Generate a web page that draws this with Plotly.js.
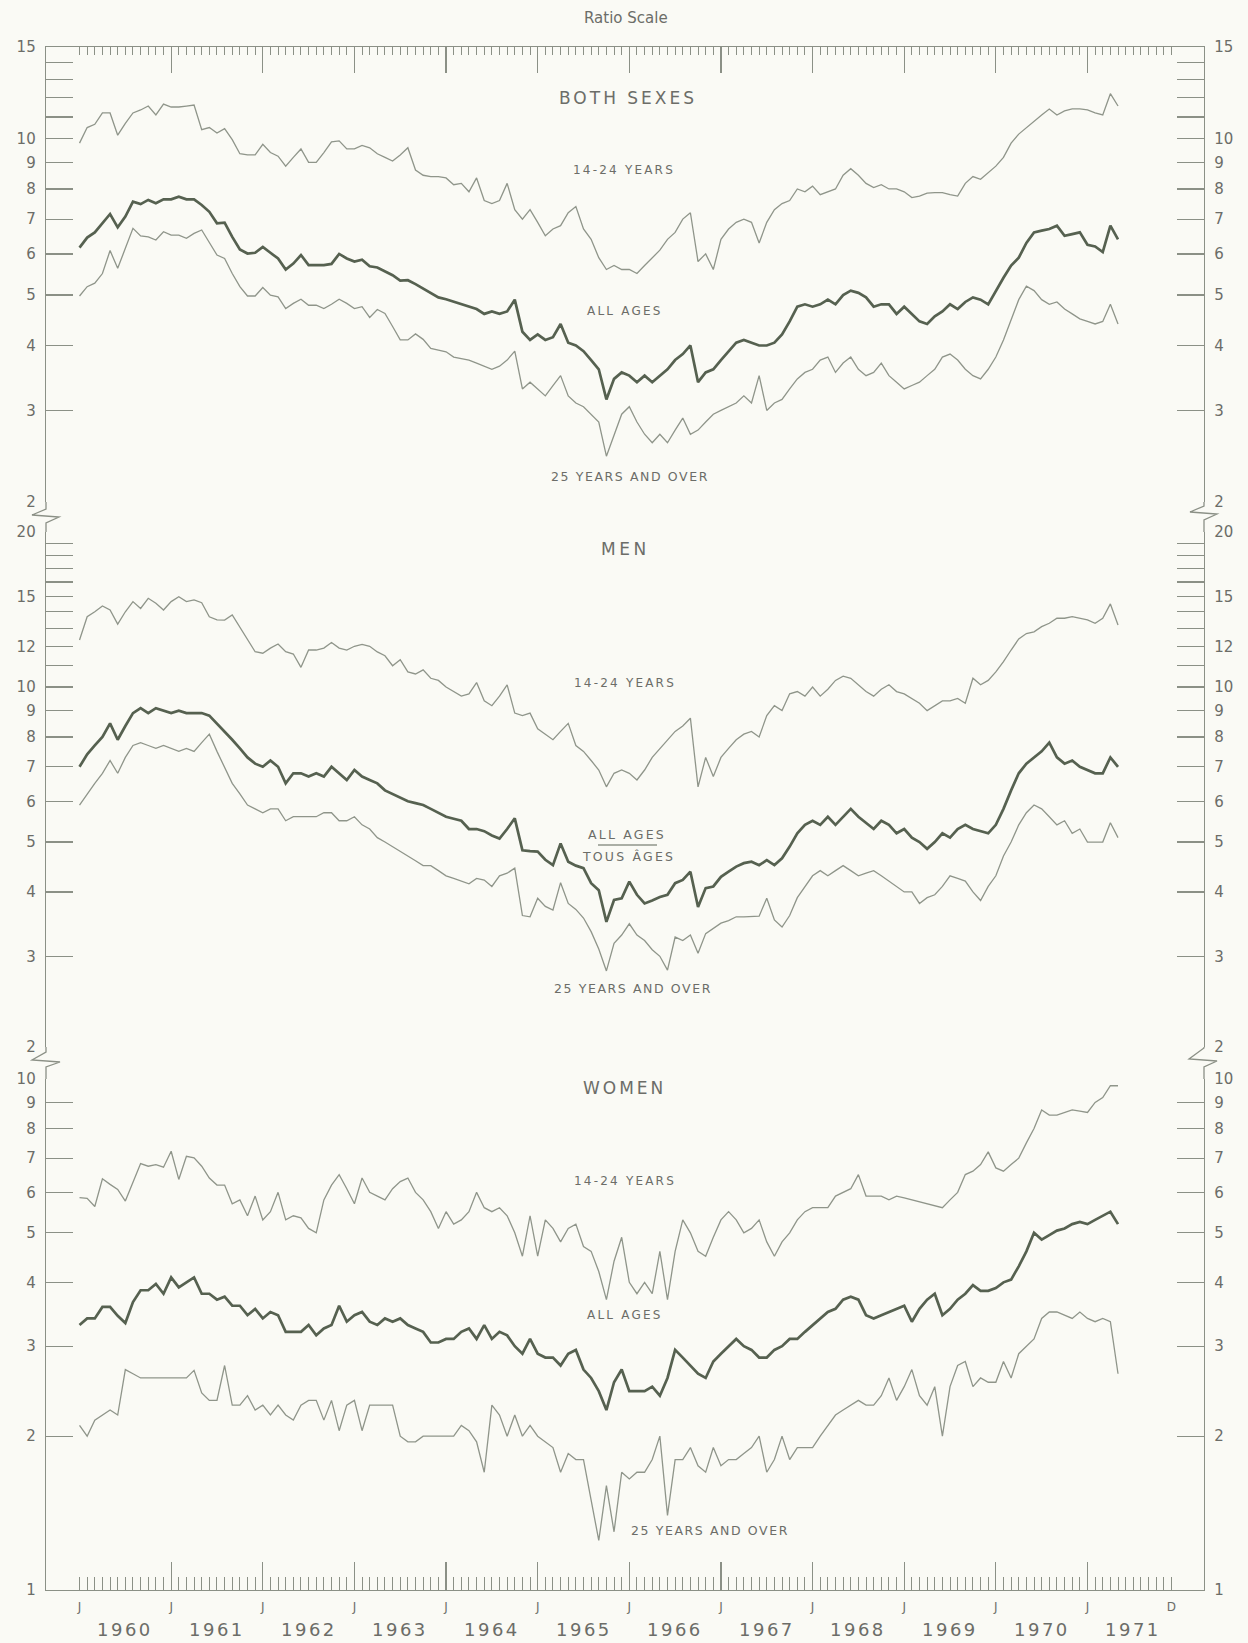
<!DOCTYPE html>
<html><head><meta charset="utf-8">
<script src="https://cdn.plot.ly/plotly-3.0.1.min.js"></script>
<style>html,body{margin:0;padding:0;background:#fafaf5;}#chart{width:1248px;height:1643px;}</style>
</head><body><div id="chart"></div>
<script>
// Monthly seasonally adjusted unemployment rates (%), Jan 1960 - May 1971
const bothYouth = [9.8,10.5,10.65,11.2,11.2,10.15,10.7,11.2,11.35,11.55,
 11.1,11.65,11.5,11.5,11.55,11.6,10.4,10.5,10.25,10.45,
 9.95,9.35,9.3,9.3,9.75,9.4,9.25,8.85,9.2,9.55,
 9.0,9.0,9.4,9.85,9.9,9.55,9.55,9.7,9.6,9.35,
 9.2,9.05,9.3,9.6,8.7,8.5,8.45,8.45,8.4,8.15,
 8.2,7.9,8.4,7.6,7.5,7.6,8.2,7.3,7.0,7.3,
 6.9,6.5,6.7,6.8,7.2,7.4,6.7,6.4,5.9,5.6,
 5.7,5.6,5.6,5.5,5.7,5.9,6.1,6.4,6.6,7.0,
 7.2,5.8,6.0,5.6,6.4,6.7,6.9,7.0,6.9,6.3,
 6.9,7.3,7.5,7.6,8.0,7.9,
 8.1,7.8,7.9,8.0,8.5,8.75,8.5,8.2,8.05,8.15,
 8.0,8.0,7.9,7.7,7.75,7.85,7.87,7.87,7.8,7.75,
 8.2,8.45,8.35,8.6,8.85,9.2,9.8,10.2,10.5,10.8,
 11.1,11.4,11.1,11.3,11.4,11.4,11.35,11.2,11.1,12.2,11.55];
const bothAll = [6.17,6.45,6.6,6.87,7.16,6.75,7.08,7.56,7.48,7.62,
 7.51,7.64,7.64,7.73,7.64,7.64,7.45,7.23,6.87,6.89,
 6.47,6.12,6.01,6.03,6.19,6.03,5.88,5.6,5.75,5.97,
 5.71,5.71,5.71,5.74,6.0,5.88,5.8,5.85,5.68,5.65,
 5.55,5.46,5.33,5.34,5.25,5.15,5.04,4.95,4.91,4.86,
 4.8,4.75,4.7,4.6,4.65,4.6,4.65,4.9,4.25,4.1,
 4.2,4.1,4.15,4.4,4.05,4.0,3.9,3.75,3.6,3.15,
 3.45,3.55,3.5,3.4,3.5,3.4,3.5,3.6,3.75,3.85,
 4.0,3.4,3.55,3.6,3.75,3.9,4.05,4.1,4.05,4.0,
 4.0,4.05,4.2,4.45,4.75,4.8,4.75,4.8,4.9,4.8,
 5.0,5.1,5.05,4.95,4.75,4.8,4.8,4.6,4.75,4.6,
 4.45,4.4,4.55,4.65,4.8,4.7,4.85,4.95,4.9,4.8,
 5.1,5.4,5.7,5.9,6.3,6.6,6.65,6.7,6.8,6.5,
 6.55,6.6,6.25,6.2,6.05,6.8,6.4];
const bothOlder = [4.98,5.19,5.27,5.5,6.09,5.63,6.15,6.72,6.5,6.47,
 6.38,6.62,6.52,6.52,6.43,6.57,6.67,6.29,5.97,5.88,
 5.5,5.19,4.98,4.98,5.17,5.0,4.96,4.71,4.82,4.91,
 4.78,4.78,4.71,4.8,4.91,4.82,4.71,4.75,4.53,4.69,
 4.61,4.35,4.1,4.1,4.21,4.11,3.95,3.92,3.89,3.8,
 3.78,3.75,3.7,3.65,3.6,3.65,3.75,3.9,3.3,3.4,
 3.3,3.2,3.35,3.5,3.2,3.1,3.05,2.95,2.85,2.45,
 2.7,2.95,3.05,2.85,2.7,2.6,2.7,2.6,2.75,2.9,
 2.7,2.75,2.85,2.95,3.0,3.05,3.1,3.2,3.1,3.5,
 3.0,3.1,3.15,3.3,3.45,3.55,3.6,3.75,3.8,3.55,
 3.7,3.8,3.6,3.5,3.55,3.7,3.5,3.4,3.3,3.35,
 3.4,3.5,3.6,3.8,3.85,3.75,3.6,3.5,3.45,3.6,
 3.8,4.1,4.5,4.9,5.2,5.1,4.9,4.8,4.85,4.7,
 4.6,4.5,4.45,4.4,4.45,4.8,4.4];
const menYouth = [12.34,13.69,14.0,14.37,14.11,13.25,14.0,14.65,14.21,14.87,
 14.54,14.11,14.65,14.97,14.65,14.76,14.58,13.69,13.5,13.49,
 13.8,13.09,12.4,11.71,11.63,11.9,12.12,11.71,11.59,10.92,
 11.8,11.8,11.9,12.2,11.9,11.8,12.0,12.1,12.0,11.7,
 11.5,11.0,11.3,10.7,10.6,10.8,10.4,10.3,10.0,9.8,
 9.6,9.7,10.2,9.4,9.2,9.6,10.1,8.9,8.8,8.9,
 8.3,8.1,7.9,8.2,8.5,7.7,7.5,7.2,6.9,6.4,
 6.8,6.9,6.8,6.6,6.9,7.3,7.6,7.9,8.2,8.4,
 8.7,6.4,7.3,6.7,7.3,7.6,7.9,8.1,8.2,8.0,
 8.8,9.2,9.0,9.7,9.8,9.6,10.0,9.6,9.9,10.3,
 10.5,10.4,10.1,9.8,9.6,9.9,10.1,9.8,9.7,9.5,
 9.3,9.0,9.2,9.4,9.4,9.5,9.3,10.4,10.1,10.3,
 10.7,11.2,11.8,12.4,12.7,12.8,13.1,13.3,13.6,13.6,
 13.7,13.6,13.5,13.3,13.6,14.5,13.2];
const menAll = [7.0,7.4,7.7,8.0,8.5,7.9,8.4,8.9,9.1,8.9,
 9.1,9.0,8.9,9.0,8.9,8.9,8.9,8.8,8.5,8.2,
 7.9,7.6,7.3,7.1,7.0,7.2,7.0,6.5,6.8,6.8,
 6.7,6.8,6.7,7.0,6.8,6.6,6.9,6.7,6.6,6.5,
 6.3,6.2,6.1,6.0,5.95,5.9,5.8,5.7,5.6,5.55,
 5.5,5.3,5.3,5.25,5.15,5.08,5.3,5.56,4.82,4.8,
 4.79,4.62,4.51,4.97,4.58,4.5,4.45,4.16,4.03,3.5,
 3.86,3.89,4.19,3.95,3.8,3.85,3.91,3.95,4.16,4.22,
 4.38,3.74,4.07,4.1,4.28,4.38,4.48,4.55,4.58,4.51,
 4.61,4.51,4.65,4.9,5.2,5.4,5.5,5.4,5.6,5.4,
 5.6,5.8,5.6,5.45,5.3,5.5,5.4,5.2,5.3,5.1,
 5.0,4.85,5.0,5.2,5.1,5.3,5.4,5.3,5.25,5.2,
 5.4,5.8,6.3,6.8,7.1,7.3,7.5,7.8,7.3,7.1,
 7.2,7.0,6.9,6.8,6.8,7.3,7.0];
const menOlder = [5.9,6.2,6.5,6.8,7.2,6.8,7.3,7.7,7.8,7.7,
 7.6,7.7,7.6,7.5,7.6,7.5,7.8,8.1,7.5,7.0,
 6.5,6.2,5.9,5.8,5.7,5.8,5.8,5.5,5.6,5.6,
 5.6,5.6,5.7,5.7,5.5,5.5,5.6,5.4,5.3,5.1,
 5.0,4.9,4.8,4.7,4.6,4.5,4.5,4.4,4.3,4.25,
 4.2,4.15,4.25,4.22,4.1,4.3,4.35,4.45,3.6,3.58,
 3.89,3.75,3.69,4.17,3.8,3.7,3.56,3.35,3.1,2.81,
 3.18,3.3,3.47,3.3,3.22,3.09,3.0,2.82,3.27,3.22,
 3.3,3.04,3.32,3.4,3.48,3.52,3.58,3.58,3.59,3.59,
 3.89,3.53,3.42,3.6,3.9,4.1,4.3,4.4,4.3,4.4,
 4.5,4.4,4.3,4.35,4.4,4.3,4.2,4.1,4.0,4.0,
 3.8,3.9,3.95,4.1,4.3,4.25,4.2,4.0,3.85,4.1,
 4.3,4.7,5.0,5.4,5.7,5.9,5.8,5.6,5.4,5.5,
 5.2,5.3,5.0,5.0,5.0,5.45,5.1];
const womenYouth = [5.86,5.84,5.63,6.38,6.22,6.08,5.77,6.3,6.83,6.75,
 6.8,6.72,7.22,6.36,7.06,7.01,6.75,6.4,6.2,6.2,
 5.7,5.8,5.4,5.9,5.3,5.5,6.0,5.3,5.4,5.35,
 5.1,5.0,5.8,6.2,6.5,6.1,5.7,6.4,6.0,5.9,
 5.8,6.1,6.3,6.4,6.0,5.8,5.5,5.1,5.5,5.2,
 5.3,5.5,6.0,5.6,5.5,5.6,5.4,5.0,4.5,5.4,
 4.5,5.3,5.1,4.8,5.1,5.2,4.7,4.6,4.2,3.7,
 4.4,4.9,4.0,3.8,4.0,3.8,4.6,3.7,4.6,5.3,
 5.0,4.6,4.5,4.9,5.3,5.5,5.3,5.0,5.1,5.3,
 4.8,4.5,4.8,5.0,5.3,5.5,5.6,5.6,5.6,5.9,
 6.0,6.1,6.5,5.9,5.9,5.9,5.8,5.9,5.85,5.8,
 5.75,5.7,5.65,5.6,5.8,6.0,6.5,6.6,6.8,7.2,
 6.7,6.6,6.8,7.0,7.5,8.0,8.7,8.5,8.5,8.6,
 8.7,8.65,8.6,9.0,9.2,9.7,9.7];
const womenAll = [3.3,3.4,3.4,3.58,3.58,3.44,3.33,3.66,3.86,3.86,
 3.97,3.8,4.09,3.91,4.0,4.09,3.8,3.8,3.7,3.75,
 3.6,3.6,3.45,3.55,3.4,3.5,3.45,3.2,3.2,3.2,
 3.3,3.15,3.25,3.3,3.6,3.35,3.45,3.5,3.35,3.3,
 3.4,3.35,3.4,3.3,3.25,3.2,3.05,3.05,3.1,3.1,
 3.2,3.25,3.1,3.3,3.1,3.2,3.15,3.0,2.9,3.1,
 2.9,2.85,2.85,2.75,2.9,2.95,2.7,2.6,2.45,2.25,
 2.55,2.7,2.45,2.45,2.45,2.5,2.4,2.6,2.95,2.85,
 2.75,2.65,2.6,2.8,2.9,3.0,3.1,3.0,2.95,2.85,
 2.85,2.95,3.0,3.1,3.1,3.2,3.3,3.4,3.5,3.55,
 3.7,3.75,3.7,3.45,3.4,3.45,3.5,3.55,3.6,3.35,
 3.55,3.7,3.8,3.45,3.55,3.7,3.8,3.95,3.85,3.85,
 3.9,4.0,4.05,4.3,4.6,5.0,4.85,4.95,5.05,5.1,
 5.2,5.25,5.2,5.3,5.4,5.5,5.2];
const womenOlder = [2.1,2.0,2.15,2.2,2.25,2.2,2.7,2.65,2.6,2.6,
 2.6,2.6,2.6,2.6,2.6,2.69,2.43,2.35,2.35,2.75,
 2.3,2.3,2.4,2.25,2.3,2.2,2.3,2.2,2.15,2.3,
 2.35,2.35,2.15,2.35,2.05,2.3,2.35,2.05,2.3,2.3,
 2.3,2.3,2.0,1.95,1.95,2.0,2.0,2.0,2.0,2.0,
 2.1,2.05,1.95,1.7,2.3,2.2,2.0,2.2,2.0,2.1,
 2.0,1.95,1.9,1.7,1.85,1.8,1.8,1.5,1.25,1.6,
 1.3,1.7,1.65,1.7,1.7,1.8,2.0,1.4,1.8,1.8,
 1.9,1.75,1.7,1.9,1.75,1.8,1.8,1.85,1.9,2.0,
 1.7,1.8,2.0,1.8,1.9,1.9,1.9,2.0,2.1,2.2,
 2.25,2.3,2.35,2.3,2.3,2.4,2.6,2.35,2.5,2.7,
 2.4,2.3,2.5,2.0,2.5,2.75,2.8,2.5,2.6,2.55,
 2.55,2.8,2.6,2.9,3.0,3.1,3.4,3.5,3.5,3.45,
 3.4,3.5,3.4,3.35,3.4,3.35,2.65];

const years = ['1960','1961','1962','1963','1964','1965','1966','1967','1968','1969','1970','1971'];
const monthLetters = ['J','J','J','J','J','J','J','J','J','J','J','J','D'];
const monthTickPos = [0,12,24,36,48,60,72,84,96,108,120,132,143];
const bothTicks = [2,3,4,5,6,7,8,9,10,11,12,13,14,15];
const bothTickText = ['2','3','4','5','6','7','8','9','10','','','','','15'];
const menTicks = [2,3,4,5,6,7,8,9,10,11,12,13,14,15,16,17,18,19,20];
const menTickText = ['2','3','4','5','6','7','8','9','10','','12','','','15','','','','','20'];
const womenTicks = [1,2,3,4,5,6,7,8,9,10];
const womenTickText = ['1','2','3','4','5','6','7','8','9','10'];

const monthIdx = bothYouth.map((_, i) => i);

// ---- geometry / style ----
const W = 1248, H = 1643, ML = 46, MR = 44, MT = 47, MB = 53;
const PW = W - ML - MR, PH = H - MT - MB;
const px = v => (v - ML) / PW;
const py = v => (H - MB - v) / PH;
const FONT = 'DejaVu Sans';
const TXT = '#6c6d68', AX = '#8b9086', THIN = '#8f958a', THICK = '#566150';
const XR = [-4.39, 147.26];

const majorX = [12,24,36,48,60,72,84,96,108,120,132];
const minorX = []; for (let m = 0; m <= 143; m++) minorX.push(m);

function line(y, ax, thick) {
  return {x: monthIdx, y: y, yaxis: ax, xaxis: 'x', type: 'scatter', mode: 'lines',
    line: {color: thick ? THICK : THIN, width: thick ? 2.7 : 1.3}, hoverinfo: 'skip', showlegend: false};
}
// carrier traces (no marks) so that the mirrored axes are drawn
function carrier(y, xa, ya) {
  return {x: monthIdx, y: y, xaxis: xa, yaxis: ya, type: 'scatter', mode: 'none', hoverinfo: 'skip', showlegend: false};
}
const traces = [
  line(bothYouth, 'y', false), line(bothOlder, 'y', false), line(bothAll, 'y', true),
  line(menYouth, 'y2', false), line(menOlder, 'y2', false), line(menAll, 'y2', true),
  line(womenYouth, 'y3', false), line(womenOlder, 'y3', false), line(womenAll, 'y3', true),
  carrier(bothAll, 'x', 'y4'), carrier(menAll, 'x', 'y5'), carrier(womenAll, 'x', 'y6'),
  carrier(bothAll, 'x2', 'y'), carrier(womenAll, 'x3', 'y3')
];

function yax(domain, range, vals, text, side, overlay) {
  const a = {domain: domain, type: 'log', range: range, autorange: false, anchor: 'x', side: side,
    showline: true, linecolor: AX, linewidth: 1.3, ticks: 'inside', ticklen: 27, tickwidth: 1.2,
    tickcolor: AX, tickmode: 'array', tickvals: vals, ticktext: text, showgrid: false, zeroline: false,
    tickfont: {family: FONT, size: 15, color: TXT}, ticklabelstandoff: 6, fixedrange: true};
  if (overlay) a.overlaying = overlay;
  return a;
}
const L2 = Math.log10(2), L15 = Math.log10(15), L20 = Math.log10(20);
const d1 = [py(502), 1], d2 = [py(1047), py(532)], d3 = [0, py(1079)];

const layout = {
  width: W, height: H, margin: {l: ML, r: MR, t: MT, b: MB, pad: 0},
  paper_bgcolor: '#fafaf5', plot_bgcolor: '#fafaf5', showlegend: false,
  xaxis: {domain: [0, 1], range: XR, autorange: false, anchor: 'y3', showline: true, linecolor: AX, linewidth: 1.3,
    ticks: 'inside', tickmode: 'array', tickvals: majorX, ticklen: 28, tickwidth: 1.2, tickcolor: AX,
    showticklabels: false, showgrid: false, zeroline: false, fixedrange: true,
    minor: {ticks: 'inside', tickmode: 'array', tickvals: minorX, ticklen: 13, tickwidth: 1, tickcolor: AX, showgrid: false}},
  xaxis2: {overlaying: 'x', anchor: 'y', side: 'top', range: XR, autorange: false, showline: true, linecolor: AX, linewidth: 1.3,
    ticks: 'inside', tickmode: 'array', tickvals: majorX, ticklen: 26, tickwidth: 1.2, tickcolor: AX,
    showticklabels: false, showgrid: false, zeroline: false, fixedrange: true,
    minor: {ticks: 'inside', tickmode: 'array', tickvals: minorX, ticklen: 8, tickwidth: 1, tickcolor: AX, showgrid: false}},
  xaxis3: {overlaying: 'x', anchor: 'y3', side: 'bottom', range: XR, autorange: false, showline: false,
    ticks: '', tickmode: 'array', tickvals: monthTickPos, ticktext: monthLetters, showgrid: false, zeroline: false,
    tickfont: {family: FONT, size: 12, color: TXT}, ticklabelstandoff: 8, fixedrange: true},
  yaxis: yax(d1, [L2, L15], bothTicks, bothTickText, 'left'),
  yaxis2: yax(d2, [L2, L20], menTicks, menTickText, 'left'),
  yaxis3: yax(d3, [0, 1], womenTicks, womenTickText, 'left'),
  yaxis4: yax(d1, [L2, L15], bothTicks, bothTickText, 'right', 'y'),
  yaxis5: yax(d2, [L2, L20], menTicks, menTickText, 'right', 'y2'),
  yaxis6: yax(d3, [0, 1], womenTicks, womenTickText, 'right', 'y3'),
  annotations: [],
  shapes: []
};

function note(text, x, y, size, spacing) {
  layout.annotations.push({xref: 'paper', yref: 'paper', x: px(x), y: py(y), xanchor: 'center', yanchor: 'middle',
    showarrow: false, text: spacing ? '<span style="letter-spacing:' + spacing + 'px">' + text + '</span>' : text,
    font: {family: FONT, size: size, color: TXT}});
}
note('Ratio Scale', 626, 18, 15, 0);
note('BOTH SEXES', 628, 98, 17, 3);
note('14-24 YEARS', 624, 170, 12, 2.2);
note('ALL AGES', 625, 311, 12, 2.2);
note('25 YEARS AND OVER', 630, 477, 12.5, 1.6);
note('MEN', 625, 549, 17, 3.5);
note('14-24 YEARS', 625, 683, 12, 2.2);
note('ALL AGES', 627, 834, 12.5, 2.2);
note('TOUS ÂGES', 628, 857, 12.5, 2.2);
note('25 YEARS AND OVER', 633, 989, 12.5, 1.6);
note('WOMEN', 624, 1088, 17, 3);
note('14-24 YEARS', 625, 1181, 12, 2.2);
note('ALL AGES', 625, 1315, 12, 2.2);
note('25 YEARS AND OVER', 710, 1530, 12.5, 1.6);

years.forEach((yr, i) => {
  layout.annotations.push({xref: 'x', yref: 'paper', x: i * 12 + 6, y: py(1629), xanchor: 'center', yanchor: 'middle',
    showarrow: false, text: '<span style="letter-spacing:2.5px">' + yr + '</span>', font: {family: FONT, size: 18, color: TXT}});
});

function pathOf(pts) {
  return pts.map((p, i) => (i ? 'L' : 'M') + px(p[0]).toFixed(5) + ',' + py(p[1]).toFixed(5)).join(' ');
}
const breaks = [
  [[46,502],[46,509],[32,515],[59,517],[46,523],[46,532]],
  [[1204,502],[1204,506],[1190,512],[1217,514],[1204,520],[1204,532]],
  [[46,1047],[46,1052],[32,1060],[60,1062],[46,1067],[46,1079]],
  [[1204,1047],[1204,1048],[1189,1059],[1217,1061],[1204,1067],[1204,1079]]
];
breaks.forEach(b => layout.shapes.push({type: 'path', xref: 'paper', yref: 'paper', path: pathOf(b),
  line: {color: AX, width: 1.3}, layer: 'above'}));
layout.shapes.push({type: 'line', xref: 'paper', yref: 'paper', x0: px(598), x1: px(657), y0: py(845), y1: py(845),
  line: {color: THIN, width: 1.3}});

Plotly.newPlot('chart', traces, layout, {staticPlot: true, displayModeBar: false});
</script></body></html>
